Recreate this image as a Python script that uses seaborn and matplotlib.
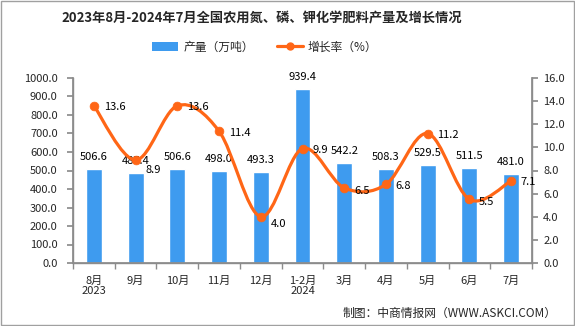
import matplotlib
matplotlib.use("Agg")
import matplotlib.pyplot as plt
from matplotlib.path import Path
from matplotlib.patches import PathPatch, Patch, Rectangle
from matplotlib.lines import Line2D
import seaborn as sns
import pandas as pd
import numpy as np

months = ["8月\n2023", "9月", "10月", "11月", "12月", "1-2月\n2024", "3月", "4月", "5月", "6月", "7月"]
output = [506.6, 487.4, 506.6, 498.0, 493.3, 939.4, 542.2, 508.3, 529.5, 511.5, 481.0]
growth = [13.6, 8.9, 13.6, 11.4, 4.0, 9.9, 6.5, 6.8, 11.2, 5.5, 7.1]
left_ticks = [0, 100, 200, 300, 400, 500, 600, 700, 800, 900, 1000]
right_ticks = [0, 2, 4, 6, 8, 10, 12, 14, 16]

title = "2023年8月-2024年7月全国农用氮、磷、钾化学肥料产量及增长情况"
bar_name = "产量（万吨）"
line_name = "增长率（%）"
source = "制图：中商情报网（WWW.ASKCI.COM）"

# vertical nudges (points) for the growth labels, style only
label_dy = [0, -6, 0, 0, -4, 0, -1, 0, 0, -1, 0]

BLUE = "#3E9BEF"
ORANGE = "#FF6616"
GRAY = "#8C8C8C"

sns.set_theme(style="white")
plt.rcParams["font.family"] = ["Noto Sans CJK SC", "DejaVu Sans"]

df = pd.DataFrame({"month": months, "output": output, "growth": growth})

fig = plt.figure(figsize=(5.75, 3.26), dpi=100)
ax = fig.add_axes([73 / 575, 1 - 263 / 326, (532 - 73) / 575, (263 - 78) / 326])

sns.barplot(data=df, x="month", y="output", color=BLUE, width=0.38, ax=ax,
            saturation=1, zorder=2)
ax.set_xlim(-0.5, len(months) - 0.5)
ax.set_ylim(0, 1000)
ax.set_yticks(left_ticks)
ax.set_yticklabels([f"{v:.1f}" for v in left_ticks], fontsize=8)
ax.set_xlabel("")
ax.set_ylabel("")
ax.set_xticks(range(len(months)))
ax.set_xticklabels(months, fontsize=8, linespacing=1.0)
ax.set_xticks(np.arange(-0.5, len(months), 1.0), minor=True)
ax.tick_params(axis="x", which="major", length=0, pad=9)
ax.tick_params(axis="x", which="minor", length=4, color=GRAY, direction="out", bottom=True)
ax.tick_params(axis="y", length=4, color=GRAY, direction="out", left=True, pad=7)
for s in ["left", "bottom", "right"]:
    ax.spines[s].set_color(GRAY)
    ax.spines[s].set_linewidth(1)
ax.spines["top"].set_visible(False)

for cont in ax.containers:
    ax.bar_label(cont, labels=[f"{v:.1f}" for v in output], padding=5, fontsize=8, color="black")

ax2 = ax.twinx()
ax2.set_ylim(0, 16)
ax2.set_yticks(right_ticks)
ax2.set_yticklabels([f"{v:.1f}" for v in right_ticks], fontsize=8)
ax2.tick_params(axis="y", length=4, color=GRAY, direction="out", right=True, pad=4)
for s in ["left", "bottom", "right"]:
    ax2.spines[s].set_color(GRAY)
ax2.spines["top"].set_visible(False)

# smooth curve through the data points (Catmull-Rom as cubic Bezier)
xs = np.arange(len(growth), dtype=float)
ys = np.array(growth, dtype=float)
pts = np.column_stack([xs, ys])
ext = np.vstack([pts[0], pts, pts[-1]])
verts = [tuple(pts[0])]
codes = [Path.MOVETO]
for i in range(len(pts) - 1):
    p0, p1, p2, p3 = ext[i], ext[i + 1], ext[i + 2], ext[i + 3]
    c1 = p1 + (p2 - p0) / 6.0
    c2 = p2 - (p3 - p1) / 6.0
    verts += [tuple(c1), tuple(c2), tuple(p2)]
    codes += [Path.CURVE4, Path.CURVE4, Path.CURVE4]
ax2.add_patch(PathPatch(Path(verts, codes), facecolor="none", edgecolor=ORANGE,
                        lw=2.3, transform=ax2.transData, zorder=3, capstyle="round"))
sns.scatterplot(x=xs, y=ys, color=ORANGE, s=40, edgecolor=ORANGE, ax=ax2, zorder=4, legend=False)
for x, y, dy in zip(xs, ys, label_dy):
    ax2.annotate(f"{y:.1f}", (x, y), xytext=(7, dy - 1), textcoords="offset points",
                 ha="left", va="center", fontsize=8, color="black", zorder=5)
ax2.set_ylabel("")

handles = [Patch(facecolor=BLUE, edgecolor="none"),
           Line2D([0], [0], color=ORANGE, lw=2.3, marker="o", markersize=5)]
fig.legend(handles, [bar_name, line_name], loc="center", bbox_to_anchor=(265 / 575, 1 - 47 / 326),
           ncol=2, frameon=False, fontsize=8.5, handlelength=2.2, handleheight=0.7,
           columnspacing=2.0, handletextpad=0.4)

fig.text(262 / 575, 1 - 18 / 326, title, ha="center", va="center", fontsize=9.5, fontweight="bold")
fig.text(557 / 575, 1 - 313 / 326, source, ha="right", va="center", fontsize=8.5)

fig.patches.append(Rectangle((0.001, 0.002), 0.997, 0.995, transform=fig.transFigure,
                             fill=False, edgecolor="#A0A0A0", lw=1))

fig.savefig("out.png", dpi=100)
